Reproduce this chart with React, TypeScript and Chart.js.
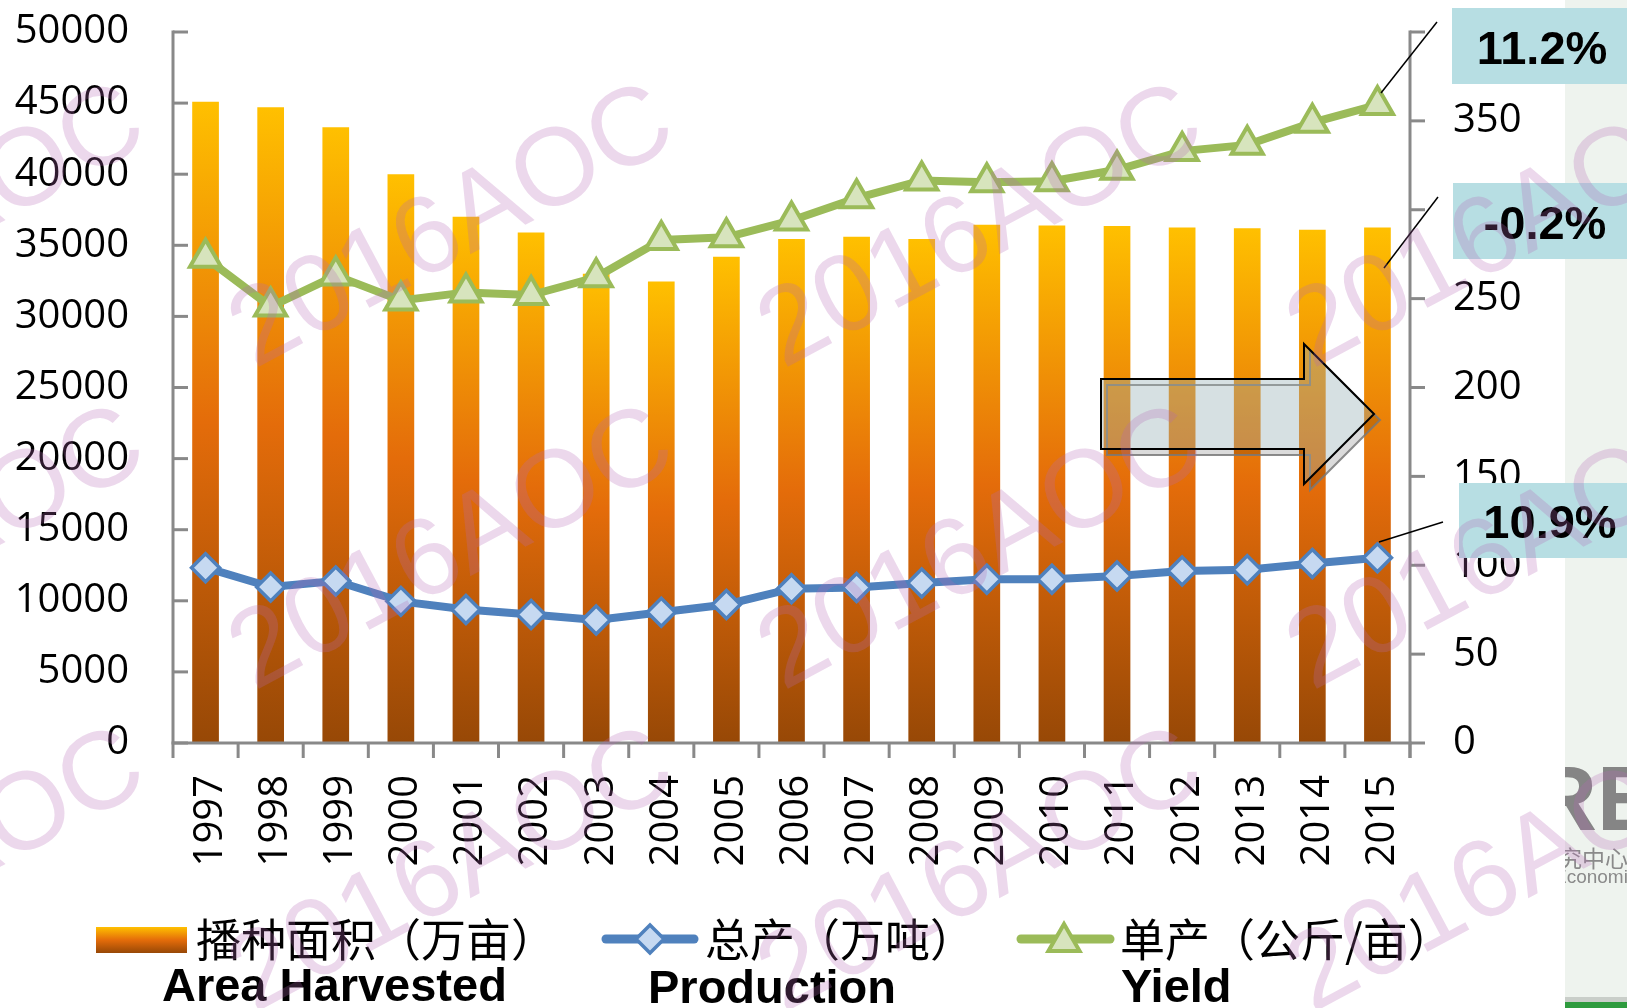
import React, { useEffect, useRef } from 'react';
import { Chart, registerables } from 'chart.js';

Chart.register(...registerables);

// ---------------- data ----------------
const years = ['1997', '1998', '1999', '2000', '2001', '2002', '2003', '2004', '2005', '2006', '2007', '2008', '2009', '2010', '2011', '2012', '2013', '2014', '2015'];
const areaHarvested = [45100, 44700, 43300, 40000, 37000, 35900, 33000, 32450, 34200, 35450, 35600, 35450, 36450, 36400, 36350, 36250, 36200, 36100, 36250];
const production = [12330, 10970, 11390, 9960, 9390, 9030, 8650, 9200, 9740, 10850, 10930, 11250, 11510, 11520, 11740, 12100, 12190, 12620, 13020];
const yieldPerMu = [273, 245.5, 263, 249, 253.5, 252, 262, 283, 284.5, 294, 306.5, 316.5, 315.5, 316, 322.5, 333, 336.5, 349, 359];

const leftAxis = { min: 0, max: 50000, step: 5000 };
const rightAxis = { min: 0, max: 400, step: 50 };

const changeLabels = ['11.2%', '-0.2%', '10.9%'];
const legendCn = ['播种面积（万亩）', '总产（万吨）', '单产（公斤/亩）'];
const legendEn = ['Area Harvested', 'Production', 'Yield'];
const watermarkText = '2016AOC';

// ---------------- styling ----------------
const W = 1627;
const H = 1008;
const SANS = '"Open Sans", "Noto Sans", "DejaVu Sans", sans-serif';
const ARIAL = '"Liberation Sans", Arial, sans-serif';
const CJK = '"Noto Sans CJK SC", "Noto Sans CJK JP", sans-serif';
const AXIS_GRAY = '#898989';
const BLUE = '#4F81BD';
const BLUE_FILL = '#C6D9F1';
const GREEN = '#9BBB59';
const GREEN_FILL = '#D7E4BD';
const BOX = '#B7DEE3';

function barGradient(c: CanvasRenderingContext2D, y0: number, y1: number) {
  const g = c.createLinearGradient(0, y0, 0, y1);
  g.addColorStop(0, '#FFC000');
  g.addColorStop(0.5, '#E46C0A');
  g.addColorStop(1, '#974806');
  return g;
}

const arrowPts = [
  [1101, 379], [1304, 379], [1304, 344], [1374, 414], [1304, 484], [1304, 449], [1101, 449],
];

function arrowPath(c: CanvasRenderingContext2D, dx: number, dy: number) {
  c.beginPath();
  arrowPts.forEach(([x, y], i) => (i === 0 ? c.moveTo(x + dx, y + dy) : c.lineTo(x + dx, y + dy)));
  c.closePath();
}

function drawDiamond(c: CanvasRenderingContext2D, x: number, y: number, r: number) {
  c.beginPath();
  c.moveTo(x, y - r);
  c.lineTo(x + r, y);
  c.lineTo(x, y + r);
  c.lineTo(x - r, y);
  c.closePath();
  c.fillStyle = BLUE_FILL;
  c.fill();
  c.lineWidth = 3.5;
  c.strokeStyle = BLUE;
  c.stroke();
}

function drawTriangle(c: CanvasRenderingContext2D, x: number, y: number, r: number) {
  c.beginPath();
  for (let i = 0; i < 3; i++) {
    const a = (i * 2 * Math.PI) / 3;
    const px = x + Math.sin(a) * r;
    const py = y - Math.cos(a) * r;
    if (i === 0) c.moveTo(px, py);
    else c.lineTo(px, py);
  }
  c.closePath();
  c.fillStyle = GREEN_FILL;
  c.fill();
  c.lineWidth = 4;
  c.strokeStyle = GREEN;
  c.stroke();
}

const backgroundPlugin = {
  id: 'slideBackground',
  beforeDraw(chart: any) {
    const c: CanvasRenderingContext2D = chart.ctx;
    c.save();
    c.fillStyle = '#FFFFFF';
    c.fillRect(0, 0, W, H);
    c.fillStyle = '#EEF3EE';
    c.fillRect(1565, 0, W - 1565, H);
    c.fillStyle = '#C9CEC9';
    c.fillRect(1565, 997, W - 1565, 5);
    c.fillStyle = '#2E9B3E';
    c.fillRect(1565, 1002, W - 1565, 6);
    c.beginPath();
    c.rect(1565, 0, W - 1565, H);
    c.clip();
    c.fillStyle = '#858585';
    c.textAlign = 'left';
    c.textBaseline = 'alphabetic';
    c.font = `bold 90px ${ARIAL}`;
    c.fillText('RE', 1532, 830);
    c.fillStyle = '#8A8A8A';
    c.font = `23px ${CJK}`;
    c.textBaseline = 'middle';
    c.fillText('研究中心', 1536, 858);
    c.font = `19px ${ARIAL}`;
    c.fillText('Economics', 1554, 878);
    c.restore();
  },
};

const overlayPlugin = {
  id: 'overlay',
  afterDraw(chart: any) {
    const c: CanvasRenderingContext2D = chart.ctx;
    const a = chart.chartArea;
    const xs = chart.scales.x;
    const ys = chart.scales.y;
    const ys1 = chart.scales.y1;
    if (!a || !xs || !ys || !ys1) return;
    c.save();

    // ---- axes ----
    c.strokeStyle = AXIS_GRAY;
    c.lineWidth = 3;
    const seg = (x0: number, y0: number, x1: number, y1: number) => {
      c.beginPath();
      c.moveTo(x0, y0);
      c.lineTo(x1, y1);
      c.stroke();
    };
    seg(a.left, a.top - 1.5, a.left, a.bottom);
    ys.ticks.forEach((_: any, i: number) => {
      const py = ys.getPixelForTick(i);
      seg(a.left, py, a.left + 15, py);
    });
    seg(a.right, a.top - 1.5, a.right, a.bottom + 15);
    ys1.ticks.forEach((_: any, i: number) => {
      const py = ys1.getPixelForTick(i);
      seg(a.right, py, a.right + 15, py);
    });
    seg(a.left - 1.5, a.bottom, a.right + 1.5, a.bottom);
    const n = years.length;
    for (let i = 0; i <= n; i++) {
      let px: number;
      if (i === 0) px = a.left;
      else if (i === n) px = a.right;
      else px = (xs.getPixelForTick(i - 1) + xs.getPixelForTick(i)) / 2;
      seg(px, a.bottom, px, a.bottom + 15);
    }

    // ---- arrow ----
    c.save();
    c.beginPath();
    c.rect(0, 0, W, H);
    c.moveTo(arrowPts[0][0], arrowPts[0][1]);
    for (let i = arrowPts.length - 1; i >= 1; i--) c.lineTo(arrowPts[i][0], arrowPts[i][1]);
    c.closePath();
    c.clip('evenodd');
    arrowPath(c, 6, 6);
    c.fillStyle = 'rgba(0,0,0,0.14)';
    c.fill();
    c.restore();
    arrowPath(c, 6, 6);
    c.strokeStyle = 'rgba(120,120,120,0.85)';
    c.lineWidth = 2;
    c.stroke();
    arrowPath(c, 0, 0);
    c.globalCompositeOperation = 'multiply';
    c.fillStyle = '#D6E0E2';
    c.fill();
    c.globalCompositeOperation = 'source-over';
    c.fillStyle = 'rgba(214,224,226,0.3)';
    c.fill();
    c.strokeStyle = '#000000';
    c.lineWidth = 2;
    c.stroke();

    // ---- change boxes ----
    const boxes = [
      { x: 1452, y: 8, h: 76, tx: 1542, ty: 49, lx0: 1437, ly0: 22, lx1: 1381, ly1: 93 },
      { x: 1453, y: 183, h: 76, tx: 1545, ty: 224, lx0: 1438, ly0: 197, lx1: 1384, ly1: 268 },
      { x: 1459, y: 483, h: 75, tx: 1550, ty: 523, lx0: 1443, ly0: 522, lx1: 1379, ly1: 542 },
    ];
    boxes.forEach((b, i) => {
      c.fillStyle = BOX;
      c.fillRect(b.x, b.y, W - b.x, b.h);
      c.fillStyle = '#000000';
      c.font = `bold 47px ${ARIAL}`;
      c.textAlign = 'center';
      c.textBaseline = 'middle';
      c.fillText(changeLabels[i], b.tx, b.ty + 2);
      c.strokeStyle = '#000000';
      c.lineWidth = 1.5;
      seg(b.lx0, b.ly0, b.lx1, b.ly1);
    });

    // ---- legend ----
    c.fillStyle = barGradient(c, 927, 953);
    c.fillRect(96, 927, 91, 26);
    c.lineCap = 'round';
    c.strokeStyle = BLUE;
    c.lineWidth = 9;
    seg(606, 939, 694, 939);
    drawDiamond(c, 650, 939, 14);
    c.strokeStyle = GREEN;
    c.lineWidth = 9;
    seg(1021, 939, 1110, 939);
    drawTriangle(c, 1064, 942, 18);
    c.lineCap = 'butt';
    c.fillStyle = '#000000';
    c.textAlign = 'left';
    c.textBaseline = 'middle';
    c.font = `45px ${CJK}`;
    c.fillText(legendCn[0], 196, 940);
    c.fillText(legendCn[1], 705, 940);
    c.fillText(legendCn[2], 1120, 940);
    c.textBaseline = 'alphabetic';
    c.font = `bold 47px ${ARIAL}`;
    c.fillText(legendEn[0], 162, 1001);
    c.fillText(legendEn[1], 648, 1003);
    c.fillText(legendEn[2], 1121, 1002);

    // ---- watermarks ----
    c.font = `110px ${ARIAL}`;
    c.textAlign = 'center';
    c.textBaseline = 'middle';
    c.fillStyle = 'rgba(180,105,180,0.26)';
    const cols = [-76, 453, 982, 1511];
    const rows = [229, 551, 873];
    rows.forEach((ry) => {
      cols.forEach((cx) => {
        c.save();
        c.translate(cx, ry);
        c.rotate((-28 * Math.PI) / 180);
        c.fillText(watermarkText, 0, 0);
        c.restore();
      });
    });

    c.restore();
  },
};

export default function App() {
  const canvasRef = useRef<HTMLCanvasElement | null>(null);

  useEffect(() => {
    document.body.style.margin = '0';
    const canvas = canvasRef.current;
    if (!canvas) return;

    const chart = new Chart(canvas, {
      type: 'bar',
      data: {
        labels: years,
        datasets: [
          {
            type: 'line',
            label: legendEn[2],
            data: yieldPerMu,
            yAxisID: 'y1',
            borderColor: GREEN,
            borderWidth: 8,
            tension: 0,
            pointStyle: 'triangle',
            pointRadius: 18,
            pointBackgroundColor: GREEN_FILL,
            pointBorderColor: GREEN,
            pointBorderWidth: 4,
            order: 1,
          } as any,
          {
            type: 'line',
            label: legendEn[1],
            data: production,
            yAxisID: 'y',
            borderColor: BLUE,
            borderWidth: 8,
            tension: 0,
            pointStyle: 'rectRot',
            pointRadius: 14,
            pointBackgroundColor: BLUE_FILL,
            pointBorderColor: BLUE,
            pointBorderWidth: 3.5,
            order: 2,
          } as any,
          {
            type: 'bar',
            label: legendEn[0],
            data: areaHarvested,
            yAxisID: 'y',
            backgroundColor: (ctx: any) => {
              const ch = ctx.chart;
              const sc = ch.scales && ch.scales.y;
              if (!sc || typeof ctx.raw !== 'number') return '#E46C0A';
              const y0 = sc.getPixelForValue(ctx.raw);
              const y1 = sc.getPixelForValue(0);
              if (!Number.isFinite(y0) || !Number.isFinite(y1) || y0 === y1) return '#E46C0A';
              return barGradient(ch.ctx, y0, y1);
            },
            borderWidth: 0,
            categoryPercentage: 1,
            barPercentage: 0.41,
            order: 3,
          } as any,
        ],
      },
      options: {
        responsive: false,
        animation: false,
        events: [],
        layout: { padding: { top: 32, left: 0, right: 0, bottom: 0 } },
        plugins: {
          legend: { display: false },
          tooltip: { enabled: false },
        },
        scales: {
          x: {
            type: 'category',
            offset: true,
            grid: { display: false },
            border: { display: false },
            ticks: {
              autoSkip: false,
              minRotation: 90,
              maxRotation: 90,
              padding: 24,
              labelOffset: 5,
              color: '#000000',
              font: { family: SANS, size: 40 },
            },
            afterFit: (s: any) => {
              s.height = 265;
              s.paddingLeft = 0;
              s.paddingRight = 0;
            },
          },
          y: {
            position: 'left',
            min: leftAxis.min,
            max: leftAxis.max,
            grid: { display: false },
            border: { display: false },
            ticks: {
              stepSize: leftAxis.step,
              padding: 36,
              color: '#000000',
              font: { family: SANS, size: 40 },
              callback: (v: any) => String(v),
            },
            afterFit: (s: any) => {
              s.width = 173;
              s.paddingTop = 0;
              s.paddingBottom = 0;
            },
          },
          y1: {
            position: 'right',
            min: rightAxis.min,
            max: rightAxis.max,
            grid: { display: false },
            border: { display: false },
            ticks: {
              stepSize: rightAxis.step,
              padding: 35,
              color: '#000000',
              font: { family: SANS, size: 40 },
              callback: (v: any) => String(v),
            },
            afterFit: (s: any) => {
              s.width = 217;
              s.paddingTop = 0;
              s.paddingBottom = 0;
            },
          },
        },
      },
      plugins: [backgroundPlugin, overlayPlugin],
    } as any);

    return () => chart.destroy();
  }, []);

  return (
    <div style={{ position: 'absolute', left: 0, top: 0, width: W, height: H, overflow: 'hidden' }}>
      <canvas ref={canvasRef} width={W} height={H} style={{ width: W, height: H, display: 'block' }} />
    </div>
  );
}
